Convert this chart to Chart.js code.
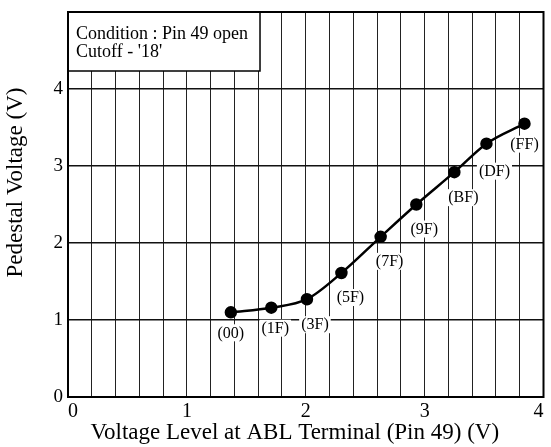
<!DOCTYPE html>
<html>
<head>
<meta charset="utf-8">
<script src="https://cdn.jsdelivr.net/npm/chart.js@4/dist/chart.umd.min.js"></script>
<style>
  html, body { margin: 0; padding: 0; background: #fff; }
  #wrap { width: 551px; height: 447px; }
</style>
</head>
<body>
<div id="wrap"><canvas id="chart" width="551" height="447"></canvas></div>
<script>
const codes = ['(00)', '(1F)', '(3F)', '(5F)', '(7F)', '(9F)', '(BF)', '(DF)', '(FF)'];
const ablVoltage = [1.37, 1.71, 2.01, 2.30, 2.63, 2.93, 3.25, 3.52, 3.84];
const pedestalVoltage = [1.10, 1.16, 1.27, 1.61, 2.08, 2.50, 2.92, 3.29, 3.55];
const xTicks = [0, 1, 2, 3, 4];
const yTicks = [0, 1, 2, 3, 4];
const noteLines = ['Condition : Pin 49 open', "Cutoff - '18'"];
const xTitle = 'Voltage Level at ABL Terminal (Pin 49) (V)';
const yTitle = 'Pedestal Voltage (V)';

// label offsets from each point (px), style only
const labelOffsets = [[0, 20], [4, 20], [8, 25], [9, 24], [9, 24], [8, 24], [9, 25], [8, 27], [0, 20]];

const serif = '"Liberation Serif", "Times New Roman", serif';

const pointLabels = {
  id: 'pointLabels',
  afterDatasetsDraw(chart) {
    const ctx = chart.ctx;
    const meta = chart.getDatasetMeta(0);
    ctx.save();
    ctx.font = '16px ' + serif;
    ctx.textAlign = 'center';
    ctx.textBaseline = 'middle';
    meta.data.forEach((pt, i) => {
      const [dx, dy] = labelOffsets[i];
      const x = pt.x + dx;
      const y = pt.y + dy;
      const w = ctx.measureText(codes[i]).width;
      ctx.fillStyle = '#fff';
      ctx.fillRect(x - w / 2 - 2, y - 8, w + 4, 17);
      ctx.fillStyle = '#000';
      ctx.fillText(codes[i], x, y + 1);
    });
    ctx.restore();
  }
};

const frameAndNote = {
  id: 'frameAndNote',
  beforeDatasetsDraw(chart) {
    const ctx = chart.ctx;
    const { left, top, right, bottom } = chart.chartArea;
    ctx.save();
    ctx.font = '18px ' + serif;
    const w = Math.max(...noteLines.map(t => ctx.measureText(t).width)) + 20;
    const h = 59;
    ctx.fillStyle = '#fff';
    ctx.fillRect(left, top, w, h);
    ctx.strokeStyle = '#000';
    ctx.lineWidth = 1.5;
    ctx.strokeRect(left, top, w, h);
    ctx.fillStyle = '#000';
    ctx.textBaseline = 'alphabetic';
    noteLines.forEach((t, i) => ctx.fillText(t, left + 8, top + 27 + i * 18));
    ctx.lineWidth = 2;
    ctx.strokeRect(left, top, right - left, bottom - top);
    ctx.restore();
  },
  afterDraw(chart) {
    const ctx = chart.ctx;
    const { left, top, right, bottom } = chart.chartArea;
    ctx.save();
    ctx.fillStyle = '#000';
    ctx.font = '23px ' + serif;
    ctx.textAlign = 'center';
    ctx.textBaseline = 'middle';
    ctx.fillText(xTitle, (left + right) / 2 - 11, bottom + 36);
    ctx.translate(16, (top + bottom) / 2 - 22);
    ctx.rotate(-Math.PI / 2);
    ctx.fillText(yTitle, 0, 0);
    ctx.restore();
  }
};

const ctx = document.getElementById('chart').getContext('2d');
new Chart(ctx, {
  type: 'line',
  data: {
    datasets: [{
      data: ablVoltage.map((x, i) => ({ x, y: pedestalVoltage[i] })),
      borderColor: '#000',
      backgroundColor: '#000',
      borderWidth: 2.5,
      pointRadius: 5,
      pointHoverRadius: 5,
      cubicInterpolationMode: 'monotone',
      fill: false,
    }]
  },
  options: {
    responsive: false,
    animation: false,
    layout: { padding: { left: 0, right: -4, top: 12, bottom: 0 } },
    plugins: {
      legend: { display: false },
      tooltip: { enabled: false },
    },
    scales: {
      x: {
        type: 'linear',
        min: 0,
        max: 4,
        afterFit: (s) => { s.height = 50; s.paddingLeft = 0; s.paddingRight = 0; s.paddingTop = 0; s.paddingBottom = 0; },
        ticks: {
          stepSize: 0.2,
          autoSkip: false,
          maxRotation: 0,
          align: 'inner',
          padding: 3,
          color: '#000',
          font: { family: serif, size: 20 },
          callback: (v) => {
            const r = Math.round(v * 10) / 10;
            return xTicks.includes(r) ? String(r) : '';
          },
        },
        grid: { color: '#222', lineWidth: 1, drawTicks: false },
        border: { color: '#000', width: 2 },
      },
      y: {
        type: 'linear',
        min: 0,
        max: 5,
        afterFit: (s) => { s.width = 68; s.paddingTop = 0; s.paddingBottom = 0; s.paddingLeft = 0; s.paddingRight = 0; },
        ticks: {
          stepSize: 1,
          padding: 5,
          color: '#000',
          font: { family: serif, size: 19 },
          callback: (v) => yTicks.includes(v) ? String(v) : '',
        },
        grid: { color: '#111', lineWidth: 1.5, drawTicks: false },
        border: { color: '#000', width: 2 },
      },
    },
  },
  plugins: [frameAndNote, pointLabels],
});
</script>
</body>
</html>
